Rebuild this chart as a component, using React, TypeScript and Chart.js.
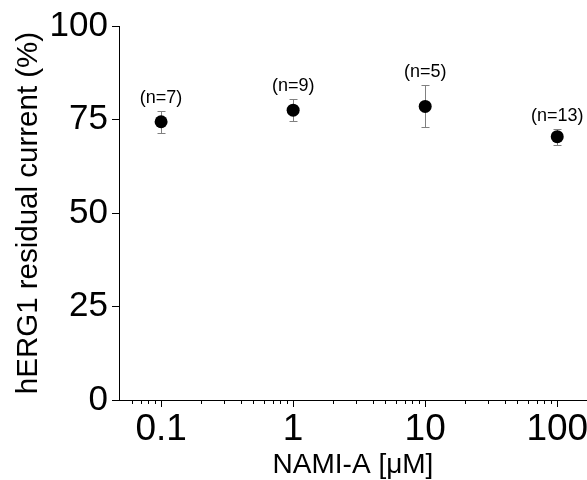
import React, { useEffect, useRef } from "react";
import { Chart, registerables } from "chart.js";

Chart.register(...registerables);

// ---- data ----
const concentrations = [0.1, 1, 10, 100];
const residualCurrent = [74.4, 77.5, 78.5, 70.4];
const errorValues = [2.9, 2.85, 5.6, 2.1];
const nLabels = ["(n=7)", "(n=9)", "(n=5)", "(n=13)"];
const xRange = [0.048, 168];
const yRange = [0, 100];
const yStep = 25;
const xTitle = "NAMI-A [\u03bcM]";
const yTitle = "hERG1 residual current (%)";

const FONT = "'Liberation Sans', Arial, Helvetica, sans-serif";

const isDecade = (v: number) => {
  const e = Math.log10(v);
  return Math.abs(e - Math.round(e)) < 1e-9;
};

const overlayPlugin = {
  id: "overlay",
  beforeDatasetsDraw(chart: any) {
    const { ctx, scales } = chart;
    const x = scales.x;
    const y = scales.y;
    ctx.save();
    ctx.strokeStyle = "#808080";
    ctx.lineWidth = 1;
    concentrations.forEach((c, i) => {
      const px = Math.round(x.getPixelForValue(c)) + 0.5;
      const top = Math.round(y.getPixelForValue(residualCurrent[i] + errorValues[i])) + 0.5;
      const bot = Math.round(y.getPixelForValue(residualCurrent[i] - errorValues[i])) + 0.5;
      ctx.beginPath();
      ctx.moveTo(px, top);
      ctx.lineTo(px, bot);
      ctx.moveTo(px - 4, top);
      ctx.lineTo(px + 4, top);
      ctx.moveTo(px - 4, bot);
      ctx.lineTo(px + 4, bot);
      ctx.stroke();
    });
    ctx.restore();
  },
  afterDatasetsDraw(chart: any) {
    const { ctx, scales } = chart;
    const x = scales.x;
    const y = scales.y;
    ctx.save();
    ctx.fillStyle = "#000";
    ctx.font = `18px ${FONT}`;
    ctx.textAlign = "center";
    ctx.textBaseline = "alphabetic";
    concentrations.forEach((c, i) => {
      const px = x.getPixelForValue(c);
      const top = y.getPixelForValue(residualCurrent[i] + errorValues[i]);
      ctx.fillText(nLabels[i], px, top - 8);
    });
    ctx.restore();
  },
  afterDraw(chart: any) {
    const { ctx, scales } = chart;
    const x = scales.x;
    ctx.save();
    ctx.strokeStyle = "#000";
    ctx.lineWidth = 1;
    x.ticks.forEach((t: any) => {
      const v = t.value;
      const exp = Math.floor(Math.log10(v) + 1e-9);
      const sig = v / Math.pow(10, exp);
      if (Math.abs(sig - Math.round(sig)) > 1e-6) return;
      const major = Math.round(sig) === 1;
      const len = major ? 7 : 4;
      const px = Math.round(x.getPixelForValue(v)) + 0.5;
      ctx.beginPath();
      ctx.moveTo(px, x.top);
      ctx.lineTo(px, x.top + len);
      ctx.stroke();
    });
    ctx.restore();
  },
};

export default function App() {
  const canvasRef = useRef<HTMLCanvasElement | null>(null);

  useEffect(() => {
    if (!canvasRef.current) return;
    const chart = new Chart(canvasRef.current, {
      type: "scatter",
      data: {
        datasets: [
          {
            data: concentrations.map((c, i) => ({ x: c, y: residualCurrent[i] })),
            pointRadius: 6.5,
            pointHoverRadius: 6.5,
            backgroundColor: "#000",
            borderColor: "#000",
            borderWidth: 0,
            showLine: false,
          },
        ],
      },
      options: {
        animation: false,
        responsive: false,
        layout: { autoPadding: false, padding: { top: 26, right: 0, left: 0, bottom: 0 } },
        plugins: {
          legend: { display: false },
          tooltip: { enabled: false },
        },
        scales: {
          x: {
            type: "logarithmic",
            position: "bottom",
            min: xRange[0],
            max: xRange[1],
            afterFit: (s: any) => {
              s.height = 80;
              s.paddingLeft = 0;
              s.paddingRight = 0;
            },
            border: { display: true, color: "#000", width: 1 },
            grid: { display: false, drawTicks: false },
            ticks: {
              autoSkip: false,
              maxRotation: 0,
              minRotation: 0,
              padding: 8,
              color: "#000",
              font: { family: FONT, size: 37 },
              callback: (v: any) => {
                const n = Number(v);
                return isDecade(n) ? String(Number(n.toPrecision(6))) : "";
              },
            },
            title: {
              display: true,
              text: xTitle,
              color: "#000",
              font: { family: FONT, size: 28, lineHeight: 1 },
              padding: { top: 0, bottom: 1 },
            },
          },
          y: {
            min: yRange[0],
            max: yRange[1],
            afterFit: (s: any) => {
              s.width = 119;
            },
            border: { display: true, color: "#000", width: 1 },
            grid: {
              display: true,
              drawOnChartArea: false,
              drawTicks: true,
              tickLength: 7,
              color: "#000",
            },
            ticks: {
              stepSize: yStep,
              padding: 4,
              color: "#000",
              font: { family: FONT, size: 35 },
            },
            title: {
              display: true,
              text: yTitle,
              color: "#000",
              font: { family: FONT, size: 29.5 },
              padding: { top: 11, bottom: 0 },
            },
          },
        },
      },
      plugins: [overlayPlugin],
    });
    return () => chart.destroy();
  }, []);

  return (
    <div style={{ position: "absolute", left: 0, top: 0, width: 587, height: 480, background: "#fff", overflow: "hidden" }}>
      <canvas ref={canvasRef} width={587} height={480} />
    </div>
  );
}
